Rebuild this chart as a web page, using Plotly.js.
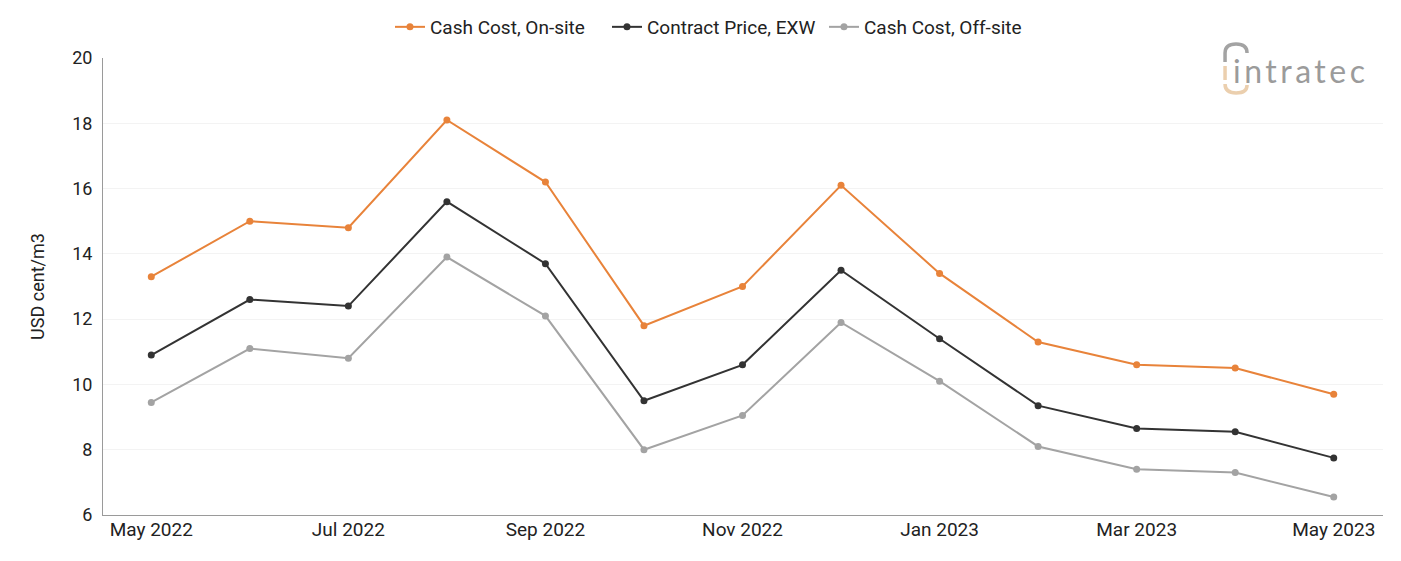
<!DOCTYPE html>
<html>
<head>
<meta charset="utf-8">
<script src="https://cdn.plot.ly/plotly-3.0.1.min.js"></script>
<style>
  html, body { margin: 0; padding: 0; background: #fff; }
  #chart { width: 1401px; height: 561px; }
</style>
</head>
<body>
<div id="chart"></div>
<script>
// Monthly periods shown on the x axis
const months = [
  "May 2022", "Jun 2022", "Jul 2022", "Aug 2022", "Sep 2022", "Oct 2022",
  "Nov 2022", "Dec 2022", "Jan 2023", "Feb 2023", "Mar 2023", "Apr 2023", "May 2023"
];
// Labelled ticks (every second month)
const tickMonths = ["May 2022", "Jul 2022", "Sep 2022", "Nov 2022", "Jan 2023", "Mar 2023", "May 2023"];

// USD cent/m3
const cashCostOnSite   = [13.3, 15.0, 14.8, 18.1, 16.2, 11.8, 13.0, 16.1, 13.4, 11.3, 10.6, 10.5, 9.7];
const contractPriceEXW = [10.9, 12.6, 12.4, 15.6, 13.7, 9.5, 10.6, 13.5, 11.4, 9.35, 8.65, 8.55, 7.75];
const cashCostOffSite  = [9.45, 11.1, 10.8, 13.9, 12.1, 8.0, 9.05, 11.9, 10.1, 8.1, 7.4, 7.3, 6.55];

const seriesNames  = ["Cash Cost, On-site", "Contract Price, EXW", "Cash Cost, Off-site"];
const seriesColors = ["#e8833a", "#333333", "#a3a3a3"];
const seriesValues = [cashCostOnSite, contractPriceEXW, cashCostOffSite];

const W = 1401, H = 561;
const M = { l: 103, r: 18, t: 58, b: 46 };
const plotW = W - M.l - M.r, plotH = H - M.t - M.b;
// pixel -> paper coordinates for the logo drawing
const px = v => ((v - M.l) / plotW).toFixed(4);
const py = v => ((H - M.b - v) / plotH).toFixed(4);

const traces = seriesValues.map((vals, i) => ({
  type: "scatter",
  mode: "lines+markers",
  name: seriesNames[i],
  x: months,
  y: vals,
  line: { color: seriesColors[i], width: 2 },
  marker: { color: seriesColors[i], size: 7 },
  hovertemplate: "%{x}: %{y}<extra>" + seriesNames[i] + "</extra>"
}));

const logoGrey = "#a3a3a3", logoTan = "#ebcfae";

const layout = {
  width: W,
  height: H,
  margin: M,
  paper_bgcolor: "#ffffff",
  plot_bgcolor: "#ffffff",
  font: { family: "Roboto, 'Noto Sans', sans-serif", color: "#222222", size: 18 },
  showlegend: true,
  legend: {
    orientation: "h",
    x: 0.4785, xanchor: "center",
    y: 1 - 27 / H, yanchor: "middle",
    yref: "container",
    font: { size: 19, color: "#222222" },
    itemwidth: 30,
    entrywidth: 172,
    entrywidthmode: "pixels",
    traceorder: "normal"
  },
  xaxis: {
    type: "category",
    range: [-0.49, 12.5],
    tickvals: tickMonths,
    ticktext: tickMonths,
    showgrid: false,
    showline: true,
    linecolor: "#9a9a9a",
    linewidth: 1,
    ticks: "",
    ticklabelstandoff: -3,
    tickfont: { size: 19, color: "#222222" },
    zeroline: false,
    fixedrange: true
  },
  yaxis: {
    range: [6, 20],
    dtick: 2,
    tick0: 0,
    showgrid: true,
    gridcolor: "#f3f3f3",
    gridwidth: 1,
    showline: true,
    linecolor: "#9a9a9a",
    linewidth: 1,
    ticks: "",
    ticklabelstandoff: 6,
    tickfont: { size: 18, color: "#222222" },
    zeroline: false,
    title: { text: "USD cent/m3", font: { size: 18, color: "#222222" }, standoff: 22 },
    fixedrange: true
  },
  annotations: [
    {
      xref: "paper", yref: "paper",
      x: px(1231), y: py(70),
      xanchor: "left", yanchor: "middle",
      text: '<span style="letter-spacing:3.5px">intratec</span>',
      showarrow: false,
      font: { family: "Lato, Roboto, sans-serif", size: 32, color: "#9b9b9b" }
    }
  ],
  shapes: [
    // logo: upper grey arc
    {
      type: "path", xref: "paper", yref: "paper",
      path: `M ${px(1225)} ${py(62)} L ${px(1225)} ${py(53)} Q ${px(1225)} ${py(44)} ${px(1236)} ${py(44)} Q ${px(1247)} ${py(44)} ${px(1247)} ${py(53)}`,
      line: { color: logoGrey, width: 3.5 }
    },
    // logo: tan left stem
    {
      type: "path", xref: "paper", yref: "paper",
      path: `M ${px(1225)} ${py(66)} L ${px(1225)} ${py(80)}`,
      line: { color: logoTan, width: 3.5 }
    },
    // logo: lower tan arc
    {
      type: "path", xref: "paper", yref: "paper",
      path: `M ${px(1225)} ${py(84)} Q ${px(1225)} ${py(93)} ${px(1236)} ${py(93)} Q ${px(1247)} ${py(93)} ${px(1247)} ${py(85)}`,
      line: { color: logoTan, width: 3.5 }
    }
  ]
};

Plotly.newPlot("chart", traces, layout, { displayModeBar: false, responsive: false });
</script>
</body>
</html>
